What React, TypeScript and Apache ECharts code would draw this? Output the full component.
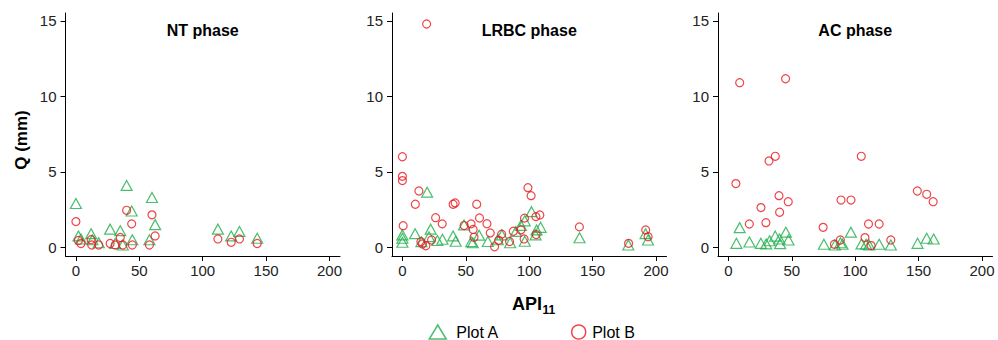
import { useEffect, useRef } from "react";
import * as echarts from "echarts";

// ---------- data ----------
const panelTitles = ["NT phase", "LRBC phase", "AC phase"];
const seriesNames = ["Plot A", "Plot B"];
const xTicks = [0, 50, 100, 150, 200];
const yTicks = [0, 5, 10, 15];
const xAxisTitle = "API";
const xAxisTitleSub = "11";
const yAxisTitle = "Q (mm)";

// [API11, Q]
const ntPlotA = [
  [0, 2.9], [2, 0.75], [4, 0.55], [12, 0.9], [13, 0.5], [18, 0.3], [27, 1.2],
  [31, 0.25], [35, 1.1], [37, 0.15], [40, 4.1], [44, 2.4], [44.5, 0.5], [58, 0.5],
  [60, 3.3], [62.5, 1.5], [112, 1.2], [122.5, 0.75], [129, 1.05], [143, 0.6],
];
const ntPlotB = [
  [0, 1.7], [2, 0.45], [4, 0.25], [12, 0.5], [12.5, 0.15], [18, 0.15], [27, 0.25],
  [31, 0.15], [35, 0.65], [37, 0.15], [40, 2.45], [44, 1.55], [44.5, 0.15], [58, 0.15],
  [60, 2.15], [62.5, 0.75], [112, 0.55], [122.5, 0.33], [129, 0.55], [143, 0.25],
];
const lrbcPlotA = [
  [0, 0.82], [0, 0.6], [0, 0.33], [10, 0.9], [15, 0.37], [19.5, 3.65], [21, 0.7],
  [22.3, 1.2], [27.6, 0.45], [31.6, 0.53], [40, 0.75], [42, 0.4], [48.6, 1.48],
  [54.3, 0.37], [55.5, 0.3], [60.5, 0.8], [67.4, 0.38], [75.2, 0.5], [78.5, 0.82],
  [85, 0.3], [89.5, 1.05], [93.5, 1.45], [96.5, 1.75], [96.5, 0.4], [101.8, 2.36],
  [105, 0.82], [105.8, 1.15], [109, 1.32], [139.7, 0.63], [178.2, 0.15], [191.8, 0.9],
  [193.7, 0.48],
];
const lrbcPlotB = [
  [0, 6.0], [0, 4.7], [0, 4.42], [0.6, 1.43], [10.2, 2.85], [13, 3.73], [14.6, 0.37],
  [15.8, 0.22], [18.5, 0.1], [19.1, 14.8], [23, 0.48], [26.2, 1.96], [31.4, 1.55],
  [40, 2.85], [41.6, 2.94], [48.7, 1.44], [54.2, 1.55], [55.8, 1.18], [56.5, 0.66],
  [58.6, 2.85], [60.8, 1.94], [66.7, 1.56], [69.3, 0.95], [72.7, 0.03], [76, 0.46],
  [78.3, 0.87], [84.5, 0.38], [87.5, 1.06], [93.5, 1.15], [96.3, 1.93], [96, 0.55],
  [99, 3.95], [101.5, 3.42], [105.3, 2.03], [108.4, 2.14], [105.5, 0.84], [139.6, 1.35],
  [178.4, 0.26], [191.9, 1.15], [193.8, 0.7],
];
const acPlotA = [
  [6.3, 0.26], [8.9, 1.3], [16.6, 0.35], [25.6, 0.26], [29.8, 0.22], [32.5, 0.43],
  [36.9, 0.74], [40.3, 0.55], [40.8, 0.24], [45.3, 1.0], [47.4, 0.48], [75.3, 0.2],
  [84, 0.15], [88.4, 0.3], [90, 0.2], [96.6, 1.0], [105, 0.22], [108.6, 0.2],
  [111, 0.15], [118.9, 0.2], [128.1, 0.15], [149.2, 0.26], [156.4, 0.6], [161.9, 0.55],
];
const acPlotB = [
  [5.9, 4.22], [8.9, 10.91], [16.5, 1.54], [25.7, 2.63], [29.6, 1.63], [32, 5.72],
  [37, 6.03], [39.9, 3.42], [40.4, 2.32], [45.1, 11.17], [47.2, 3.02], [74.7, 1.32],
  [83.6, 0.2], [88.3, 0.48], [88.8, 3.13], [96.7, 3.13], [104.8, 6.03], [107.7, 0.64],
  [110.5, 1.54], [112.6, 0.11], [118.9, 1.54], [128.1, 0.48], [149, 3.73],
  [156.4, 3.51], [161.5, 3.02],
];

const panelPlotA = [ntPlotA, lrbcPlotA, acPlotA];
const panelPlotB = [ntPlotB, lrbcPlotB, acPlotB];

// ---------- styling / layout ----------
const GREEN = "#1fae4b";
const RED = "#e8161c";
const FONT = "'Liberation Sans', Arial, Helvetica, sans-serif";
const TICK_COLOR = "#222";
const panelLefts = [65.5, 392, 718];
const panelWidth = 274.5;
const gridTop = 13;
const gridHeight = 243;
const X_MIN = -8.2;
const X_MAX = 208.3;
const Y_MIN = -0.58;
const Y_MAX = 15.53;

export default function App() {
  const ref = useRef<HTMLDivElement>(null);

  useEffect(() => {
    document.body.style.margin = "0";
    if (!ref.current) return;
    const chart = echarts.init(ref.current, null, { renderer: "svg" });

    const grids = panelLefts.map((left) => ({
      left,
      top: gridTop,
      width: panelWidth,
      height: gridHeight,
      containLabel: false,
    }));

    const xAxes = panelLefts.map((_, i) => ({
      type: "value",
      gridIndex: i,
      min: X_MIN,
      max: X_MAX,
      axisLine: { show: true, onZero: false, lineStyle: { color: "#000", width: 1 } },
      axisTick: {
        show: true,
        length: 5,
        customValues: xTicks,
        lineStyle: { color: "#000", width: 1 },
      },
      axisLabel: {
        customValues: xTicks,
        margin: 7,
        fontSize: 15,
        color: TICK_COLOR,
        fontFamily: FONT,
      },
      splitLine: { show: false },
    }));

    const yAxes = panelLefts.map((_, i) => ({
      type: "value",
      gridIndex: i,
      min: Y_MIN,
      max: Y_MAX,
      axisLine: { show: true, onZero: false, lineStyle: { color: "#000", width: 1 } },
      axisTick: {
        show: true,
        length: 5,
        customValues: yTicks,
        lineStyle: { color: "#000", width: 1 },
      },
      axisLabel: {
        customValues: yTicks,
        margin: 9,
        fontSize: 15,
        color: TICK_COLOR,
        fontFamily: FONT,
      },
      splitLine: { show: false },
    }));

    const series: any[] = [];
    panelLefts.forEach((_, i) => {
      series.push({
        type: "scatter",
        name: seriesNames[0],
        xAxisIndex: i,
        yAxisIndex: i,
        symbol: "triangle",
        symbolSize: [11, 10],
        itemStyle: { color: "rgba(0,0,0,0)", borderColor: GREEN, borderWidth: 1.2 },
        emphasis: { disabled: true },
        silent: true,
        data: panelPlotA[i],
      });
    });
    panelLefts.forEach((_, i) => {
      series.push({
        type: "scatter",
        name: seriesNames[1],
        xAxisIndex: i,
        yAxisIndex: i,
        symbol: "circle",
        symbolSize: 8,
        itemStyle: { color: "rgba(0,0,0,0)", borderColor: RED, borderWidth: 1.2 },
        emphasis: { disabled: true },
        silent: true,
        data: panelPlotB[i],
      });
    });

    const titles = panelTitles.map((t, i) => ({
      text: t,
      left: panelLefts[i] + panelWidth / 2,
      top: 22,
      textAlign: "center",
      padding: 0,
      textStyle: { fontSize: 16, fontWeight: "bold", color: "#000", fontFamily: FONT },
    }));

    chart.setOption({
      animation: false,
      backgroundColor: "#fff",
      title: titles,
      grid: grids,
      xAxis: xAxes,
      yAxis: yAxes,
      series,
      legend: {
        data: [
          { name: seriesNames[0], icon: "triangle", textStyle: { padding: [0, 0, 0, 5] } },
          { name: seriesNames[1], icon: "circle" },
        ],
        left: 428.5,
        top: 324,
        padding: 0,
        itemWidth: 17,
        itemHeight: 14,
        itemGap: 72,
        selectedMode: false,
        itemStyle: { borderWidth: 1.5 },
        textStyle: { fontSize: 16, color: "#000", fontFamily: FONT },
      },
      graphic: [
        {
          type: "text",
          x: 21,
          y: 140,
          rotation: Math.PI / 2,
          style: {
            text: yAxisTitle,
            fontSize: 17,
            fontWeight: "bold",
            fontFamily: FONT,
            fill: "#000",
            align: "center",
            verticalAlign: "middle",
          },
        },
        {
          type: "text",
          x: 512,
          y: 303.5,
          style: {
            text: xAxisTitle,
            fontSize: 18,
            fontWeight: "bold",
            fontFamily: FONT,
            fill: "#000",
            align: "left",
            verticalAlign: "middle",
          },
        },
        {
          type: "text",
          x: 542.5,
          y: 309.5,
          style: {
            text: xAxisTitleSub,
            fontSize: 12,
            fontWeight: "bold",
            fontFamily: FONT,
            fill: "#000",
            align: "left",
            verticalAlign: "middle",
          },
        },
      ],
    });

    return () => chart.dispose();
  }, []);

  return <div ref={ref} style={{ width: 998, height: 340 }} />;
}
